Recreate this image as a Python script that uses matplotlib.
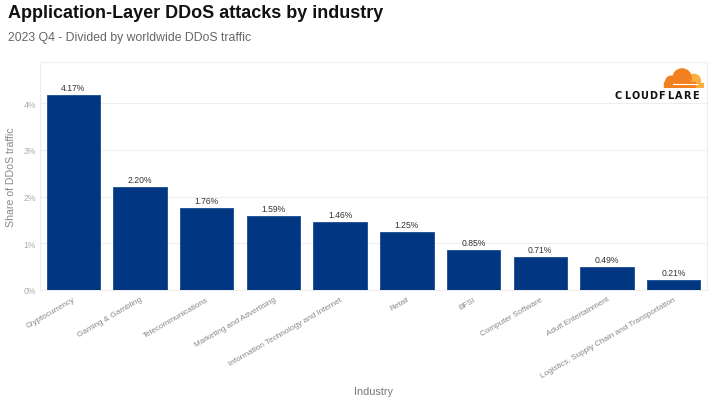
import matplotlib.pyplot as plt
from matplotlib.patches import Circle, Rectangle

# Data
industries = [
    'Cryptocurrency',
    'Gaming & Gambling',
    'Telecommunications',
    'Marketing and Advertising',
    'Information Technology and Internet',
    'Retail',
    'BFSI',
    'Computer Software',
    'Adult Entertainment',
    'Logistics, Supply Chain and Transportation',
]
shares = [4.17, 2.20, 1.76, 1.59, 1.46, 1.25, 0.85, 0.71, 0.49, 0.21]
y_ticks = [0, 1, 2, 3, 4]

W, H = 715, 402
fig = plt.figure(figsize=(W / 100, H / 100), dpi=100)
plt.rcParams['font.family'] = ['Liberation Sans', 'DejaVu Sans']

# plot area in pixels: x 40..707, y 63..291
ax = fig.add_axes([40 / W, (H - 291) / H, (707 - 40) / W, (291 - 63) / H])

x = range(len(industries))
ax.bar(x, shares, width=0.8, color='#003682', edgecolor='#1a4a92', linewidth=0.6, zorder=3)

for i, v in zip(x, shares):
    ax.text(i, v + 0.06, f'{v:.2f}%', ha='center', va='bottom', fontsize=6.2, color='#333333', zorder=4)

ax.set_xlim(-0.5, len(industries) - 0.5)
ax.set_ylim(0, 4.88)
ax.set_yticks(y_ticks)
ax.set_yticklabels([f'{t}%' for t in y_ticks], fontsize=6.2, color='#aaaaaa')
ax.set_xticks(list(x))
ax.set_xticklabels(industries, rotation=30, ha='right', rotation_mode='anchor',
                   fontsize=5.9, color='#888888')
ax.tick_params(axis='x', length=0, pad=4)
ax.tick_params(axis='y', length=0, pad=3)
ax.grid(axis='y', color='#eeeeee', linewidth=0.8, zorder=0)
for s in ax.spines.values():
    s.set_color('#eeeeee')
    s.set_linewidth(0.8)

ax.set_ylabel('Share of DDoS traffic', fontsize=7.6, color='#888888')
ax.yaxis.set_label_coords(-(40 - 16) / 667, 0.5)
ax.set_xlabel('Industry', fontsize=7.8, color='#777777')
ax.xaxis.set_label_coords(0.5, -(392 - 291) / 228)
ax.xaxis.label.set_va('center')

fig.text(8 / W, 1 - 14 / H, 'Application-Layer DDoS attacks by industry',
         fontsize=13.0, fontweight='bold', color='#111111', va='center')
fig.text(8 / W, 1 - 38 / H, '2023 Q4 - Divided by worldwide DDoS traffic',
         fontsize=8.85, color='#666666', va='center')

# Cloudflare logo: letters spread evenly over x 614..700
for k, ch in enumerate('CLOUDFLARE'):
    fig.text((614 + 4.3 + 8.6 * k) / W, 1 - 96 / H, ch, fontsize=7.0, fontweight='bold',
             color='#111111', ha='center', va='center', family='DejaVu Sans')
lax = fig.add_axes([662 / W, (H - 89) / H, 42 / W, 20 / H])
lax.set_xlim(0, 46)
lax.set_ylim(0, 22)
lax.axis('off')
orange = '#f38020'
light = '#faae40'
lax.add_patch(Circle((35, 8), 7, color=light))
lax.add_patch(Rectangle((30, 1), 15, 5, color=light))
lax.add_patch(Circle((22, 11), 10, color=orange))
lax.add_patch(Circle((10, 7), 6, color=orange))
lax.add_patch(Rectangle((2, 1), 34, 6, color=orange))
lax.plot([12, 38], [4.5, 4.5], color='white', linewidth=0.8)

fig.savefig('out.png', dpi=100)
